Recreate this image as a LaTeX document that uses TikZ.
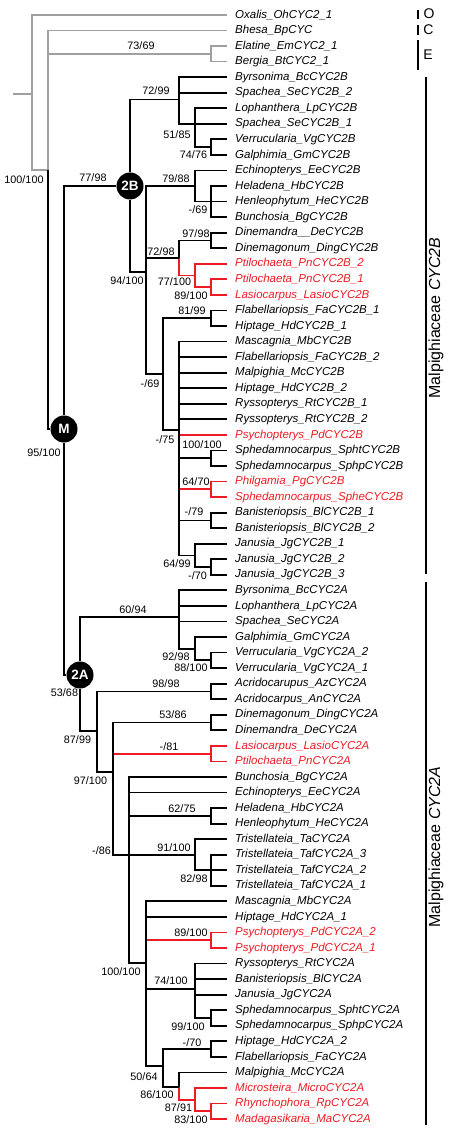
\documentclass[tikz,border=0pt]{standalone}
\usepackage{fontspec}
\setmainfont{Liberation Sans}
\definecolor{gline}{RGB}{160,160,160}
\definecolor{lr}{RGB}{237,28,36}
\colorlet{lk}{black}
\begin{document}
\begin{tikzpicture}[x=1pt,y=-1pt,
  br/.style={line width=1.8pt,draw=black},
  gbr/.style={line width=1.6pt,draw=gline},
  rbr/.style={line width=1.8pt,draw=lr},
  bar/.style={line width=1.5pt,draw=black},
  leaf/.style={anchor=west,inner xsep=8pt,inner ysep=0pt,text height=8.3pt,text depth=2pt,font=\fontsize{11.5}{12}\selectfont\itshape},
  sup/.style={inner sep=0pt,text height=7.8pt,text depth=0pt,font=\fontsize{10.8}{11}\selectfont},
  dot/.style={circle,fill=black,minimum size=27pt,inner sep=0pt,text=white,font=\fontsize{13.5}{14}\selectfont\bfseries},
  grp/.style={inner sep=0pt,font=\fontsize{16}{17}\selectfont},
  let/.style={inner sep=0pt,font=\fontsize{14}{15}\selectfont}]
\fill[white] (0,0) rectangle (454,1131);
\useasboundingbox (0,0) rectangle (454,1131);

% leaves
\foreach \c/\t [count=\i] in {
lk/Oxalis\_OhCYC2\_1, lk/Bhesa\_BpCYC, lk/Elatine\_EmCYC2\_1, lk/Bergia\_BtCYC2\_1,
lk/Byrsonima\_BcCYC2B, lk/Spachea\_SeCYC2B\_2, lk/Lophanthera\_LpCYC2B, lk/Spachea\_SeCYC2B\_1,
lk/Verrucularia\_VgCYC2B, lk/Galphimia\_GmCYC2B, lk/Echinopterys\_EeCYC2B, lk/Heladena\_HbCYC2B,
lk/Henleophytum\_HeCYC2B, lk/Bunchosia\_BgCYC2B, lk/Dinemandra\_\_DeCYC2B, lk/Dinemagonum\_DingCYC2B,
lr/Ptilochaeta\_PnCYC2B\_2, lr/Ptilochaeta\_PnCYC2B\_1, lr/Lasiocarpus\_LasioCYC2B,
lk/Flabellariopsis\_FaCYC2B\_1, lk/Hiptage\_HdCYC2B\_1, lk/Mascagnia\_MbCYC2B, lk/Flabellariopsis\_FaCYC2B\_2,
lk/Malpighia\_McCYC2B, lk/Hiptage\_HdCYC2B\_2, lk/Ryssopterys\_RtCYC2B\_1, lk/Ryssopterys\_RtCYC2B\_2,
lr/Psychopterys\_PdCYC2B, lk/Sphedamnocarpus\_SphtCYC2B, lk/Sphedamnocarpus\_SphpCYC2B,
lr/Philgamia\_PgCYC2B, lr/Sphedamnocarpus\_SpheCYC2B, lk/Banisteriopsis\_BlCYC2B\_1, lk/Banisteriopsis\_BlCYC2B\_2,
lk/Janusia\_JgCYC2B\_1, lk/Janusia\_JgCYC2B\_2, lk/Janusia\_JgCYC2B\_3,
lk/Byrsonima\_BcCYC2A, lk/Lophanthera\_LpCYC2A, lk/Spachea\_SeCYC2A, lk/Galphimia\_GmCYC2A,
lk/Verrucularia\_VgCYC2A\_2, lk/Verrucularia\_VgCYC2A\_1, lk/Acridocarupus\_AzCYC2A, lk/Acridocarpus\_AnCYC2A,
lk/Dinemagonum\_DingCYC2A, lk/Dinemandra\_DeCYC2A, lr/Lasiocarpus\_LasioCYC2A, lr/Ptilochaeta\_PnCYC2A,
lk/Bunchosia\_BgCYC2A, lk/Echinopterys\_EeCYC2A, lk/Heladena\_HbCYC2A, lk/Henleophytum\_HeCYC2A,
lk/Tristellateia\_TaCYC2A, lk/Tristellateia\_TafCYC2A\_3, lk/Tristellateia\_TafCYC2A\_2, lk/Tristellateia\_TafCYC2A\_1,
lk/Mascagnia\_MbCYC2A, lk/Hiptage\_HdCYC2A\_1, lr/Psychopterys\_PdCYC2A\_2, lr/Psychopterys\_PdCYC2A\_1,
lk/Ryssopterys\_RtCYC2A, lk/Banisteriopsis\_BlCYC2A, lk/Janusia\_JgCYC2A, lk/Sphedamnocarpus\_SphtCYC2A,
lk/Sphedamnocarpus\_SphpCYC2A, lk/Hiptage\_HdCYC2A\_2, lk/Flabellariopsis\_FaCYC2A, lk/Malpighia\_McCYC2A,
lr/Microsteira\_MicroCYC2A, lr/Rhynchophora\_RpCYC2A, lr/Madagasikaria\_MaCYC2A}
  \node[leaf,text=\c] (l\i) at (227,{15+(\i-1)*15.55}) {\t};

% internal nodes
\coordinate (S0) at (13,94);
\coordinate (R) at (32,94);
\coordinate (X) at (48,170);
\coordinate (EB) at (211,53.9);
\node[dot] (M) at (64,429) {M};
\node[dot] (N2B) at (130,186) {2B};
\node[dot] (N2A) at (80,675) {2A};
\coordinate (A) at (179,99.5);
\coordinate (C51) at (195,123.85);
\coordinate (VG) at (211,147.2);
\coordinate (B) at (146,272);
\coordinate (E79) at (195,186);
\coordinate (HHB) at (211,201.6);
\coordinate (D72) at (179,258);
\coordinate (DD) at (211,240.5);
\coordinate (P77) at (195,275.5);
\coordinate (LP) at (211,287.1);
\coordinate (F69) at (163,374);
\coordinate (FH) at (211,318.2);
\coordinate (F75) at (179,430);
\coordinate (S100) at (211,458.2);
\coordinate (P64) at (211,489.3);
\coordinate (B79) at (211,520.4);
\coordinate (J64) at (195,555.4);
\coordinate (J70) at (211,567);
\coordinate (G60) at (179,617);
\coordinate (G92) at (195,648.7);
\coordinate (VV) at (211,660.3);
\coordinate (N87) at (97,731);
\coordinate (A98) at (211,691.4);
\coordinate (N97) at (113,772);
\coordinate (D53) at (211,722.5);
\coordinate (LP81) at (211,753.6);
\coordinate (F86) at (129,855);
\coordinate (H62) at (211,815.8);
\coordinate (T91) at (195,854.7);
\coordinate (T82) at (211,870.25);
\coordinate (M100) at (146,963);
\coordinate (P89) at (211,940.2);
\coordinate (R74) at (195,989);
\coordinate (S99) at (211,1018);
\coordinate (F50) at (163,1066);
\coordinate (H70) at (211,1049.1);
\coordinate (N86) at (179,1087);
\coordinate (R87) at (195,1099.6);
\coordinate (RM) at (211,1111.3);

% outgroup (grey)
\draw[gbr] (S0) -- (R);
\draw[gbr] (R) |- (l1);
\draw[gbr] (R) |- (X);
\draw[gbr] (X) |- (l2);
\draw[gbr] (X) |- (EB);
\draw[gbr] (EB) |- (l3);
\draw[gbr] (EB) |- (l4);

% red edges first
\draw[rbr] (D72) |- (P77);
\foreach \c in {l17,LP} \draw[rbr] (P77) |- (\c);
\foreach \c in {l18,l19} \draw[rbr] (LP) |- (\c);
\draw[rbr] (F75) |- (l28);
\draw[rbr] (F75) |- (P64);
\foreach \c in {l31,l32} \draw[rbr] (P64) |- (\c);
\draw[rbr] (N97) |- (LP81);
\foreach \c in {l48,l49} \draw[rbr] (LP81) |- (\c);
\draw[rbr] (M100) |- (P89);
\foreach \c in {l60,l61} \draw[rbr] (P89) |- (\c);
\draw[rbr] (N86) |- (R87);
\foreach \c in {l70,RM} \draw[rbr] (R87) |- (\c);
\foreach \c in {l71,l72} \draw[rbr] (RM) |- (\c);

% black edges
\draw[br] (X) |- (M);
\draw[br] (M) |- (N2B);
\draw[br] (M) |- (N2A);
\draw[br] (N2B) |- (A);
\draw[br] (N2B) |- (B);
\foreach \c in {l5,l6,C51} \draw[br] (A) |- (\c);
\foreach \c in {l7,l8,VG} \draw[br] (C51) |- (\c);
\foreach \c in {l9,l10} \draw[br] (VG) |- (\c);
\foreach \c in {E79,D72,F69} \draw[br] (B) |- (\c);
\foreach \c in {l11,HHB} \draw[br] (E79) |- (\c);
\foreach \c in {l12,l13,l14} \draw[br] (HHB) |- (\c);
\draw[br] (D72) |- (DD);
\foreach \c in {l15,l16} \draw[br] (DD) |- (\c);
\foreach \c in {FH,F75} \draw[br] (F69) |- (\c);
\foreach \c in {l20,l21} \draw[br] (FH) |- (\c);
\foreach \c in {l22,l23,l24,l25,l26,l27,S100,B79,J64} \draw[br] (F75) |- (\c);
\foreach \c in {l29,l30} \draw[br] (S100) |- (\c);
\foreach \c in {l33,l34} \draw[br] (B79) |- (\c);
\foreach \c in {l35,J70} \draw[br] (J64) |- (\c);
\foreach \c in {l36,l37} \draw[br] (J70) |- (\c);
\foreach \c in {G60,N87} \draw[br] (N2A) |- (\c);
\foreach \c in {l38,l39,l40,G92} \draw[br] (G60) |- (\c);
\foreach \c in {l41,VV} \draw[br] (G92) |- (\c);
\foreach \c in {l42,l43} \draw[br] (VV) |- (\c);
\foreach \c in {A98,N97} \draw[br] (N87) |- (\c);
\foreach \c in {l44,l45} \draw[br] (A98) |- (\c);
\foreach \c in {D53,F86} \draw[br] (N97) |- (\c);
\foreach \c in {l46,l47} \draw[br] (D53) |- (\c);
\foreach \c in {l50,l51,H62,T91,M100} \draw[br] (F86) |- (\c);
\foreach \c in {l52,l53} \draw[br] (H62) |- (\c);
\foreach \c in {l54,T82} \draw[br] (T91) |- (\c);
\foreach \c in {l55,l56,l57} \draw[br] (T82) |- (\c);
\foreach \c in {l58,l59,R74,F50} \draw[br] (M100) |- (\c);
\foreach \c in {l62,l63,l64,S99} \draw[br] (R74) |- (\c);
\foreach \c in {l65,l66} \draw[br] (S99) |- (\c);
\foreach \c in {H70,N86} \draw[br] (F50) |- (\c);
\foreach \c in {l67,l68} \draw[br] (H70) |- (\c);
\draw[br] (N86) |- (l69);

% support values
\node[sup] (s1) at (141,46) {73/69};
\node[sup] (s2) at (24,180) {100/100};
\node[sup] (s3) at (93,178) {77/98};
\node[sup] (s4) at (156,91) {72/99};
\node[sup] (s5) at (177,135) {51/85};
\node[sup] (s6) at (193.5,155) {74/76};
\node[sup] (s7) at (176,179) {79/88};
\node[sup] (s8) at (198,210) {-/69};
\node[sup] (s9) at (196,234) {97/98};
\node[sup] (s10) at (161,252) {72/98};
\node[sup] (s11) at (127,281) {94/100};
\node[sup] (s12) at (174.5,282) {77/100};
\node[sup] (s13) at (191,296) {89/100};
\node[sup] (s14) at (192,311) {81/99};
\node[sup] (s15) at (150,384) {-/69};
\node[sup] (s16) at (165,440) {-/75};
\node[sup] (s17) at (202,445) {100/100};
\node[sup] (s18) at (44,453) {95/100};
\node[sup] (s19) at (196,482) {64/70};
\node[sup] (s20) at (194,512) {-/79};
\node[sup] (s21) at (177,564) {64/99};
\node[sup] (s22) at (197.5,576) {-/70};
\node[sup] (s23) at (133,610) {60/94};
\node[sup] (s24) at (176,657) {92/98};
\node[sup] (s25) at (191,668) {88/100};
\node[sup] (s26) at (166,684) {98/98};
\node[sup] (s27) at (64.5,693) {53/68};
\node[sup] (s28) at (173,715) {53/86};
\node[sup] (s29) at (77.5,740) {87/99};
\node[sup] (s30) at (169,747) {-/81};
\node[sup] (s31) at (90.5,781) {97/100};
\node[sup] (s32) at (182,809) {62/75};
\node[sup] (s33) at (174,848) {91/100};
\node[sup] (s34) at (101.5,851) {-/86};
\node[sup] (s35) at (194,879) {82/98};
\node[sup] (s36) at (191,933) {89/100};
\node[sup] (s37) at (121,972) {100/100};
\node[sup] (s38) at (171,981) {74/100};
\node[sup] (s39) at (188,1027) {99/100};
\node[sup] (s40) at (192,1043) {-/70};
\node[sup] (s41) at (144,1077) {50/64};
\node[sup] (s42) at (157,1095) {86/100};
\node[sup] (s43) at (178.5,1108) {87/91};
\node[sup] (s44) at (191,1120) {83/100};

% right-hand brackets
\coordinate (oT) at (418,10); \coordinate (oB) at (418,19);
\coordinate (cT) at (418,25); \coordinate (cB) at (418,35);
\coordinate (eT) at (418,40); \coordinate (eB) at (418,70);
\coordinate (bT) at (426,77); \coordinate (bB) at (426,574);
\coordinate (aT) at (426,582); \coordinate (aB) at (426,1125);
\draw[bar] (oT) -- (oB);
\draw[bar] (cT) -- (cB);
\draw[bar] (eT) -- (eB);
\draw[bar] (bT) -- (bB);
\draw[bar] (aT) -- (aB);
\node[let] (tO) at (429,13.5) {O};
\node[let] (tC) at (428.5,30) {C};
\node[let] (tE) at (428,55) {E};
\node[grp,rotate=90] (gB) at (436,318) {Malpighiaceae \textit{CYC2B}};
\node[grp,rotate=90] (gA) at (436,847) {Malpighiaceae \textit{CYC2A}};
\end{tikzpicture}
\end{document}
